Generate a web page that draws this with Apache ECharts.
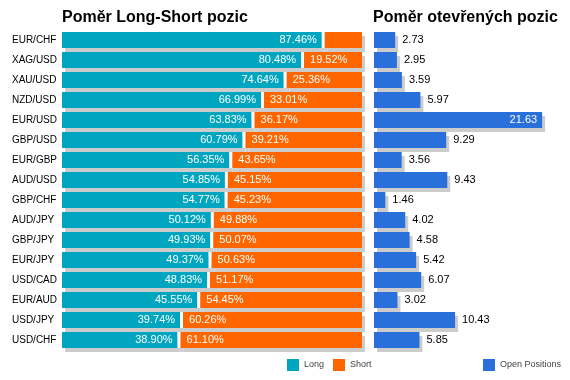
<!DOCTYPE html>
<html><head><meta charset="utf-8">
<script src="https://cdn.jsdelivr.net/npm/echarts@6/dist/echarts.min.js"></script>
<style>html,body{margin:0;padding:0;background:#fff}#c{width:570px;height:380px}</style>
</head><body><div id="c"></div>
<script>
const categories = ['EUR/CHF','XAG/USD','XAU/USD','NZD/USD','EUR/USD','GBP/USD','EUR/GBP','AUD/USD','GBP/CHF','AUD/JPY','GBP/JPY','EUR/JPY','USD/CAD','EUR/AUD','USD/JPY','USD/CHF'];
const longPct = [87.46,80.48,74.64,66.99,63.83,60.79,56.35,54.85,54.77,50.12,49.93,49.37,48.83,45.55,39.74,38.90];
const shortPct = [12.54,19.52,25.36,33.01,36.17,39.21,43.65,45.15,45.23,49.88,50.07,50.63,51.17,54.45,60.26,61.10];
const openPos = [2.73,2.95,3.59,5.97,21.63,9.29,3.56,9.43,1.46,4.02,4.58,5.42,6.07,3.02,10.43,5.85];

const FONT = '"Liberation Sans", Arial, sans-serif';
const TEAL = '#00A6C0', ORANGE = '#FF6600', BLUE = '#2A70DA', SHADOW = '#cccccc';
const shadowStyle = { shadowColor: SHADOW, shadowBlur: 0, shadowOffsetX: 3, shadowOffsetY: 4 };
const GAP = 1;

const chart = echarts.init(document.getElementById('c'), null, { renderer: 'canvas' });
const catAxis = (gi, showLabels) => ({
  type: 'category', gridIndex: gi, data: categories, inverse: true,
  axisLine: { show: false }, axisTick: { show: false }, splitLine: { show: false },
  axisLabel: { show: showLabels, align: 'left', margin: 50, fontSize: 10, color: '#000', fontFamily: FONT }
});
const valAxis = (gi, max) => ({
  type: 'value', gridIndex: gi, min: 0, max: max, show: false, splitLine: { show: false }
});

chart.setOption({
  animation: false,
  backgroundColor: '#fff',
  textStyle: { fontFamily: FONT },
  title: [
    { text: 'Poměr Long-Short pozic', left: 57, top: 5, textStyle: { fontSize: 16, fontWeight: 'bold', color: '#000', fontFamily: FONT } },
    { text: 'Poměr otevřených pozic', left: 368, top: 5, textStyle: { fontSize: 16, fontWeight: 'bold', color: '#000', fontFamily: FONT } }
  ],
  legend: [
    { data: ['Long', 'Short'], left: 287, top: 359, itemWidth: 12, itemHeight: 12, itemGap: 9, padding: 0,
      icon: 'rect', textStyle: { fontSize: 9, color: '#444', fontFamily: FONT } },
    { data: ['Open Positions'], left: 483, top: 359, itemWidth: 12, itemHeight: 12, padding: 0,
      icon: 'rect', textStyle: { fontSize: 9, color: '#444', fontFamily: FONT } }
  ],
  grid: [
    { left: 62, top: 30, width: 300, height: 320 },
    { left: 374, top: 30, width: 171, height: 320 }
  ],
  xAxis: [valAxis(0, 100 + GAP), valAxis(1, 22)],
  yAxis: [catAxis(0, true), catAxis(1, false)],
  series: [
    { name: 'Long', type: 'bar', stack: 'ls', xAxisIndex: 0, yAxisIndex: 0, barWidth: 16,
      data: longPct, itemStyle: Object.assign({ color: TEAL }, shadowStyle),
      label: { show: true, position: 'insideRight', distance: 5, color: '#fff', fontSize: 11, fontFamily: FONT,
        formatter: p => p.value.toFixed(2) + '%' } },
    { name: 'gap', type: 'bar', stack: 'ls', xAxisIndex: 0, yAxisIndex: 0, barWidth: 16,
      data: categories.map(() => GAP), itemStyle: Object.assign({ color: '#fff' }, shadowStyle),
      label: { show: false }, silent: true },
    { name: 'Short', type: 'bar', stack: 'ls', xAxisIndex: 0, yAxisIndex: 0, barWidth: 16,
      data: shortPct, itemStyle: Object.assign({ color: ORANGE }, shadowStyle),
      label: { show: true, position: 'insideLeft', distance: 6, color: '#fff', fontSize: 11, fontFamily: FONT,
        formatter: p => p.value < 15 ? '' : p.value.toFixed(2) + '%' } },
    { name: 'Open Positions', type: 'bar', xAxisIndex: 1, yAxisIndex: 1, barWidth: 16,
      data: openPos.map(v => v > 15
        ? { value: v, label: { position: 'insideRight', distance: 5, color: '#fff' } }
        : v),
      itemStyle: Object.assign({ color: BLUE }, shadowStyle),
      label: { show: true, position: 'right', distance: 7, color: '#000', fontSize: 11, fontFamily: FONT,
        formatter: p => p.value.toFixed(2) } }
  ]
});
</script></body></html>
